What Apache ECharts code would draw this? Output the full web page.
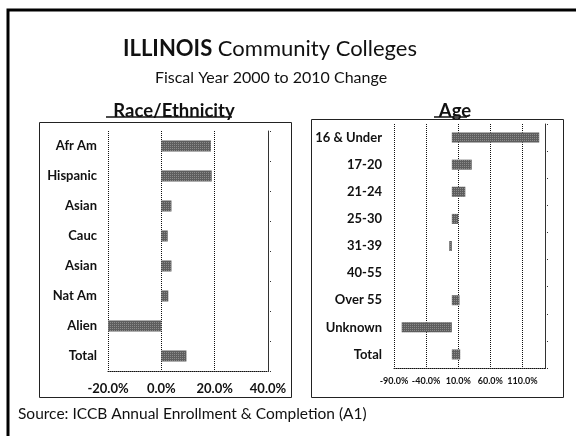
<!DOCTYPE html>
<html>
<head>
<meta charset="utf-8">
<script src="https://cdn.jsdelivr.net/npm/echarts@6/dist/echarts.min.js"></script>
<style>
  html, body { margin: 0; padding: 0; background: #fff; }
  #chart { width: 576px; height: 436px; }
</style>
</head>
<body>
<div id="chart"></div>
<script>
// values (percent change FY2000 -> FY2010)
const raceCategories = ['Afr Am', 'Hispanic', 'Asian', 'Cauc', 'Asian', 'Nat Am', 'Alien', 'Total']
const raceValues = [18.6, 18.9, 3.8, 2.4, 3.8, 2.6, -20.1, 9.4]

const ageCategories = ['16 & Under', '17-20', '21-24', '25-30', '31-39', '40-55', 'Over 55', 'Unknown', 'Total']
const ageValues = [136, 31, 21, 10, -4, 0, 12, -78, 13]

const raceTicks = { min: -20, max: 40, interval: 20 }
const ageTicks = { min: -90, max: 145, interval: 50 }

const font = 'Lato, "Open Sans", sans-serif'
const ink = '#111'

const barStyle = {
  color: '#5e5e5e',
  decal: {
    symbol: 'rect',
    symbolSize: 1,
    dashArrayX: [1, 1],
    dashArrayY: [1, 1],
    color: 'rgba(170,170,170,0.6)'
  }
}

function valueAxis(gridIndex, ticks, fontSize) {
  return {
    type: 'value',
    gridIndex: gridIndex,
    min: ticks.min,
    max: ticks.max,
    interval: ticks.interval,
    axisLine: { show: true, onZero: false, lineStyle: { color: ink, type: 'dotted', width: 1 } },
    axisTick: { show: false },
    axisLabel: {
      showMaxLabel: gridIndex === 0,
      formatter: v => v.toFixed(1) + '%',
      color: ink,
      fontFamily: font,
      fontSize: fontSize,
      fontWeight: 'bold',
      margin: gridIndex === 0 ? 11 : 9
    },
    splitLine: {
      show: true,
      showMinLine: true,
      showMaxLine: gridIndex === 0,
      lineStyle: { color: ink, type: 'dotted', width: 1 }
    }
  }
}

function labelAxis(gridIndex, cats, margin) {
  return {
    type: 'category',
    gridIndex: gridIndex,
    data: cats,
    inverse: true,
    axisLine: { show: false },
    axisTick: { show: false },
    axisLabel: { color: ink, fontFamily: font, fontSize: 13, fontWeight: 'bold', margin: margin },
    splitLine: { show: false }
  }
}

// second category axis sitting on zero: the thin baseline with its small ticks
function zeroAxis(gridIndex, cats) {
  return {
    type: 'category',
    gridIndex: gridIndex,
    data: cats,
    inverse: true,
    axisLine: { show: true, onZero: true, lineStyle: { color: '#333', width: 1 } },
    axisTick: { show: true, length: 3, lineStyle: { color: '#333', type: 'dotted' } },
    axisLabel: { show: false },
    splitLine: { show: false }
  }
}

const chart = echarts.init(document.getElementById('chart'), null, { renderer: 'canvas' })

chart.setOption({
  backgroundColor: '#fff',
  animation: false,
  title: [
    {
      text: '{b|ILLINOIS} Community Colleges',
      left: 265, top: 33, textAlign: 'center',
      textStyle: {
        fontFamily: font, fontSize: 22, fontWeight: 'normal', color: ink,
        rich: { b: { fontFamily: font, fontSize: 22, fontWeight: 'bold', color: ink } }
      }
    },
    {
      text: 'Fiscal Year 2000 to 2010 Change',
      left: 266, top: 65, textAlign: 'center',
      textStyle: { fontFamily: font, fontSize: 16, fontWeight: 'normal', color: ink }
    },
    {
      text: 'Race/Ethnicity',
      left: 169, top: 97, textAlign: 'center',
      textStyle: { fontFamily: font, fontSize: 18.5, fontWeight: 'bold', color: ink }
    },
    {
      text: 'Age',
      left: 450, top: 97, textAlign: 'center',
      textStyle: { fontFamily: font, fontSize: 18.5, fontWeight: 'bold', color: ink }
    },
    {
      text: 'Source: ICCB Annual Enrollment & Completion (A1)',
      left: 13, top: 401,
      textStyle: { fontFamily: font, fontSize: 15.5, fontWeight: 'normal', color: ink }
    }
  ],
  graphic: [
    // slide frame (top and left edges show in the scan)
    { type: 'rect', shape: { x: 8, y: 10, width: 620, height: 480 }, style: { fill: 'none', stroke: '#000', lineWidth: 3 }, silent: true },
    // panel boxes
    { type: 'rect', shape: { x: 39.5, y: 122.5, width: 252, height: 275 }, style: { fill: 'none', stroke: '#222', lineWidth: 1 }, silent: true },
    { type: 'rect', shape: { x: 311.5, y: 119.5, width: 252, height: 278 }, style: { fill: 'none', stroke: '#222', lineWidth: 1 }, silent: true },
    // underlines of panel headings
    { type: 'line', shape: { x1: 106, y1: 117, x2: 232, y2: 117 }, style: { stroke: ink, lineWidth: 1.4 }, silent: true },
    { type: 'line', shape: { x1: 434, y1: 117, x2: 467, y2: 117 }, style: { stroke: ink, lineWidth: 1.4 }, silent: true }
  ],
  grid: [
    { left: 108, top: 131, width: 160, height: 240 },
    { left: 394, top: 124, width: 151, height: 244 }
  ],
  xAxis: [
    valueAxis(0, raceTicks, 13),
    valueAxis(1, ageTicks, 9)
  ],
  yAxis: [
    labelAxis(0, raceCategories, 11),
    labelAxis(1, ageCategories, 12),
    zeroAxis(0, raceCategories),
    zeroAxis(1, ageCategories)
  ],
  series: [
    {
      name: 'Race/Ethnicity',
      type: 'bar',
      xAxisIndex: 0,
      yAxisIndex: 0,
      data: raceValues,
      barWidth: 11,
      itemStyle: barStyle
    },
    {
      name: 'Age',
      type: 'bar',
      xAxisIndex: 1,
      yAxisIndex: 1,
      data: ageValues,
      barWidth: 10,
      itemStyle: barStyle
    }
  ]
})
</script>
</body>
</html>
